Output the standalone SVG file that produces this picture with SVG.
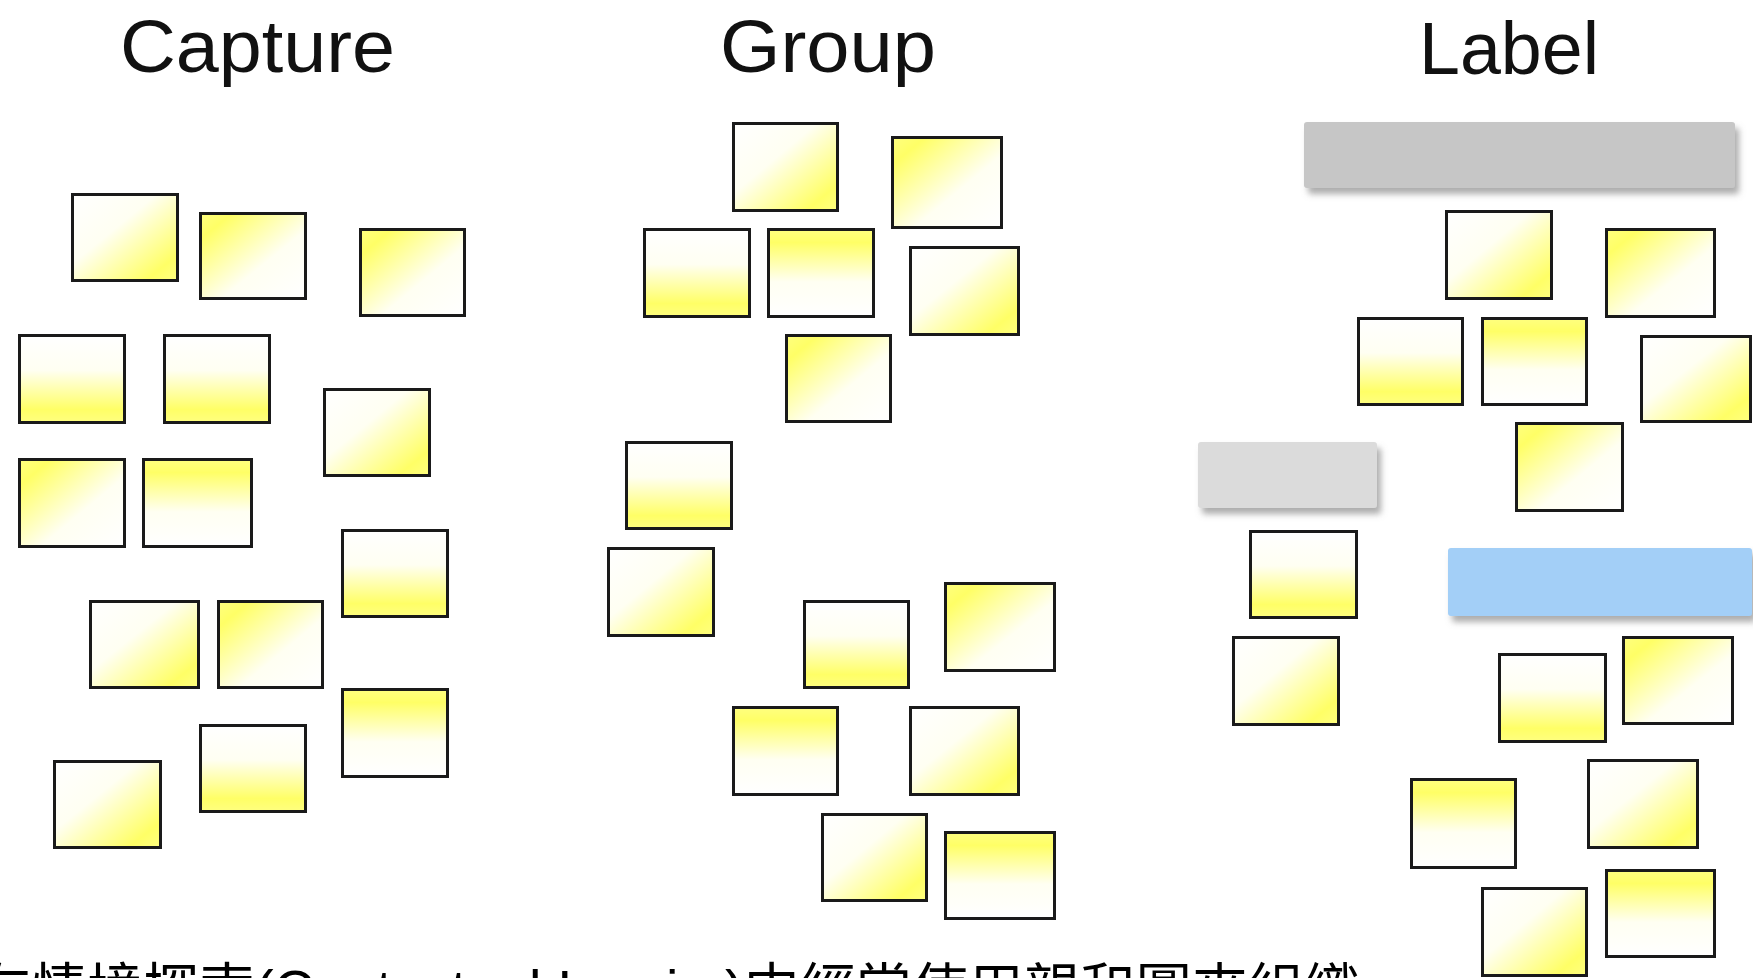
<svg xmlns="http://www.w3.org/2000/svg" width="1753" height="978" viewBox="0 0 1753 978">
<defs>
<linearGradient id="g1" x1="0" y1="0" x2="1" y2="1"><stop offset="0" stop-color="#ffffff"/><stop offset="0.4" stop-color="#fffff2"/><stop offset="0.85" stop-color="#ffff66"/><stop offset="1" stop-color="#ffff80"/></linearGradient>
<linearGradient id="g2" x1="0" y1="0" x2="1" y2="1"><stop offset="0" stop-color="#ffff80"/><stop offset="0.15" stop-color="#ffff66"/><stop offset="0.6" stop-color="#fffff2"/><stop offset="1" stop-color="#ffffff"/></linearGradient>
<linearGradient id="g3" x1="0" y1="0" x2="0" y2="1"><stop offset="0" stop-color="#ffffff"/><stop offset="0.4" stop-color="#fffff2"/><stop offset="0.85" stop-color="#ffff66"/><stop offset="1" stop-color="#ffff80"/></linearGradient>
<linearGradient id="g4" x1="0" y1="0" x2="0" y2="1"><stop offset="0" stop-color="#ffff80"/><stop offset="0.15" stop-color="#ffff66"/><stop offset="0.6" stop-color="#fffff2"/><stop offset="1" stop-color="#ffffff"/></linearGradient>
<filter id="sh" x="-10%" y="-20%" width="130%" height="160%"><feDropShadow dx="4" dy="6" stdDeviation="3" flood-color="#777777" flood-opacity="0.6"/></filter>
</defs>
<style>
.n rect{stroke:#1a1a1a;stroke-width:3}
.t1{fill:url(#g1)}.t2{fill:url(#g2)}.t3{fill:url(#g3)}.t4{fill:url(#g4)}
.title{font-family:"Liberation Sans",Arial,sans-serif;font-size:74px;fill:#111111}
.cap{font-family:"Liberation Sans","Noto Sans CJK TC",sans-serif;font-size:56px;fill:#000000}
.bar{filter:url(#sh)}
</style>
<rect width="1753" height="978" fill="#ffffff"/>
<g id="titles">
<text class="title" x="120" y="72" textLength="275" lengthAdjust="spacingAndGlyphs">Capture</text>
<text class="title" x="720" y="72" textLength="216" lengthAdjust="spacingAndGlyphs">Group</text>
<text class="title" x="1419" y="74" textLength="180" lengthAdjust="spacingAndGlyphs">Label</text>
</g>
<g id="capture" class="n">
<rect class="t1" x="72.5" y="194.5" width="105" height="86"/>
<rect class="t2" x="200.5" y="213.5" width="105" height="85"/>
<rect class="t2" x="360.5" y="229.5" width="104" height="86"/>
<rect class="t3" x="19.5" y="335.5" width="105" height="87"/>
<rect class="t3" x="164.5" y="335.5" width="105" height="87"/>
<rect class="t1" x="324.5" y="389.5" width="105" height="86"/>
<rect class="t2" x="19.5" y="459.5" width="105" height="87"/>
<rect class="t4" x="143.5" y="459.5" width="108" height="87"/>
<rect class="t3" x="342.5" y="530.5" width="105" height="86"/>
<rect class="t1" x="90.5" y="601.5" width="108" height="86"/>
<rect class="t2" x="218.5" y="601.5" width="104" height="86"/>
<rect class="t4" x="342.5" y="689.5" width="105" height="87"/>
<rect class="t3" x="200.5" y="725.5" width="105" height="86"/>
<rect class="t1" x="54.5" y="761.5" width="106" height="86"/>
</g>
<g id="group" class="n">
<rect class="t1" x="733.5" y="123.5" width="104" height="87"/>
<rect class="t2" x="892.5" y="137.5" width="109" height="90"/>
<rect class="t3" x="644.5" y="229.5" width="105" height="87"/>
<rect class="t4" x="768.5" y="229.5" width="105" height="87"/>
<rect class="t1" x="910.5" y="247.5" width="108" height="87"/>
<rect class="t2" x="786.5" y="335.5" width="104" height="86"/>
<rect class="t3" x="626.5" y="442.5" width="105" height="86"/>
<rect class="t1" x="608.5" y="548.5" width="105" height="87"/>
<rect class="t3" x="804.5" y="601.5" width="104" height="86"/>
<rect class="t2" x="945.5" y="583.5" width="109" height="87"/>
<rect class="t4" x="733.5" y="707.5" width="104" height="87"/>
<rect class="t1" x="910.5" y="707.5" width="108" height="87"/>
<rect class="t1" x="822.5" y="814.5" width="104" height="86"/>
<rect class="t4" x="945.5" y="832.5" width="109" height="86"/>
</g>
<g id="label">
<rect id="bar-top" class="bar" x="1304" y="122" width="431" height="66" rx="3" fill="#c6c6c6"/>
<rect id="bar-mid" class="bar" x="1198" y="442" width="179" height="66" rx="3" fill="#dbdbdb"/>
<rect id="bar-blue" class="bar" x="1448" y="548" width="304" height="68" rx="3" fill="#a3cff7"/>
<g class="n">
<rect class="t1" x="1446.5" y="211.5" width="105" height="87"/>
<rect class="t2" x="1606.5" y="229.5" width="108" height="87"/>
<rect class="t3" x="1358.5" y="318.5" width="104" height="86"/>
<rect class="t4" x="1482.5" y="318.5" width="104" height="86"/>
<rect class="t1" x="1641.5" y="336.5" width="109" height="85"/>
<rect class="t2" x="1516.5" y="423.5" width="106" height="87"/>
<rect class="t3" x="1250.5" y="531.5" width="106" height="86"/>
<rect class="t1" x="1233.5" y="637.5" width="105" height="87"/>
<rect class="t3" x="1499.5" y="654.5" width="106" height="87"/>
<rect class="t2" x="1623.5" y="637.5" width="109" height="86"/>
<rect class="t4" x="1411.5" y="779.5" width="104" height="88"/>
<rect class="t1" x="1588.5" y="760.5" width="109" height="87"/>
<rect class="t1" x="1482.5" y="888.5" width="104" height="87"/>
<rect class="t4" x="1606.5" y="870.5" width="108" height="86"/>
</g>
</g>
<g id="caption">
<text class="cap" x="-25" y="1009">在情境探索(Contextual Inquiry)中經常使用親和圖來組織</text>
</g>
</svg>
